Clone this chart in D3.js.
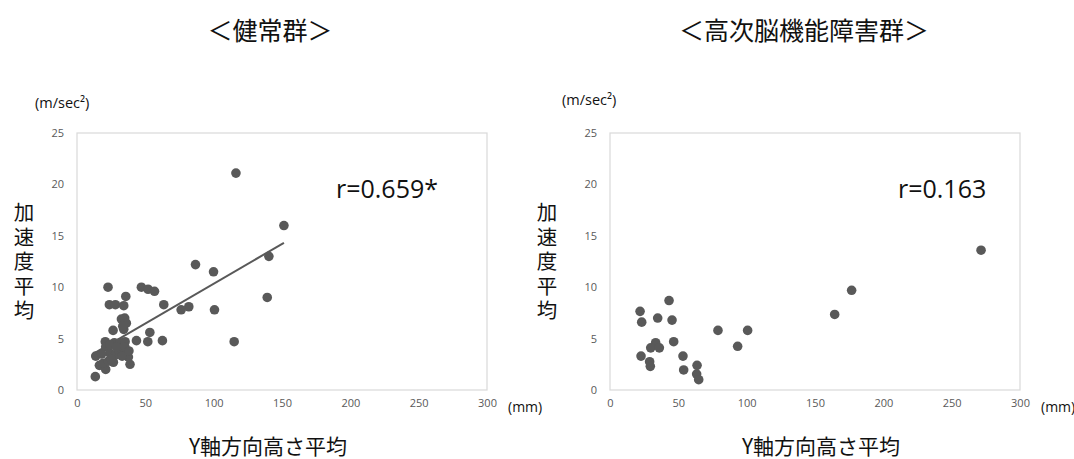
<!DOCTYPE html>
<html>
<head>
<meta charset="utf-8">
<script src="https://cdn.jsdelivr.net/npm/d3@7"></script>
<style>
  body { margin: 0; background: #fff; }
  svg text { font-family: "Noto Sans CJK JP", "Noto Sans", sans-serif; }
</style>
</head>
<body>
<div id="chart"></div>
<script>
// healthy group (健常群)
var healthyX = [116.3, 151.4, 140.4, 139.2, 115, 86.7, 99.9, 100.6, 81.8, 76.2,
    63.5, 62.5, 53.3, 51.8, 43.5, 47.1, 52, 56.7, 22.7, 23.7,
    28.1, 34.2, 35.7, 32.5, 34.9, 36.1, 34.2, 26.4, 20.7, 27.3,
    31.5, 35.2, 21, 13.7, 16.4, 21, 26.6, 38.8, 13.4, 36.4,
    37.6, 33.5, 24, 28, 31, 18, 24, 29, 33, 35,
    19, 23, 38, 25];
var healthyY = [21.1, 16.0, 13.0, 9.0, 4.7, 12.2, 11.5, 7.8, 8.1, 7.8,
    8.3, 4.8, 5.6, 4.7, 4.8, 10.0, 9.8, 9.6, 10.0, 8.3,
    8.3, 8.2, 9.1, 6.9, 7.0, 6.5, 5.9, 5.8, 4.7, 4.6,
    4.6, 4.7, 4.2, 3.3, 2.4, 2.0, 2.7, 2.5, 1.3, 3.6,
    3.2, 6.2, 3.6, 3.4, 3.8, 3.5, 4.4, 4.2, 3.3, 4.2,
    2.6, 2.8, 3.8, 3.0];

// higher brain dysfunction group (高次脳機能障害群)
var patientX = [22, 23.2, 43.2, 34.9, 45.4, 46.6, 33.4, 29.8, 36.1, 22.7,
    29, 29.5, 53.4, 53.9, 63.7, 63.4, 64.9, 79, 100.7, 93.4,
    164.4, 176.8, 271.5];
var patientY = [7.65, 6.6, 8.7, 7.0, 6.8, 4.7, 4.6, 4.1, 4.1, 3.3,
    2.75, 2.3, 3.3, 1.95, 2.4, 1.55, 1.0, 5.8, 5.8, 4.25,
    7.35, 9.7, 13.6];

var xTicks = [0, 50, 100, 150, 200, 250, 300];
var yTicks = [0, 5, 10, 15, 20, 25];

var w = 1074, h = 459;
var grey = "#595959";

var svg = d3.select("#chart").append("svg")
    .attr("width", w)
    .attr("height", h);

function panel(opt) {
    var x = d3.scaleLinear().domain([0, 300]).range([opt.left, opt.left + 410]);
    var y = d3.scaleLinear().domain([0, 25]).range([390, 133]);

    var g = svg.append("g");

    g.append("rect")
        .attr("x", x(0)).attr("y", y(25))
        .attr("width", x(300) - x(0)).attr("height", y(0) - y(25))
        .attr("fill", "none")
        .attr("stroke", "#d9d9d9")
        .attr("stroke-width", 1.2);

    var xa = g.append("g")
        .attr("transform", "translate(0," + (y(0) + 6) + ")")
        .call(d3.axisBottom(x).tickValues(xTicks).tickSize(0));
    var ya = g.append("g")
        .attr("transform", "translate(" + (x(0) - 10) + ",0)")
        .call(d3.axisLeft(y).tickValues(yTicks).tickSize(0));
    [xa, ya].forEach(function(a) {
        a.select(".domain").remove();
        a.selectAll("text")
            .attr("fill", grey)
            .style("font-family", "'Open Sans', sans-serif")
            .style("font-size", "11px");
    });

    if (opt.trend) {
        var n = opt.xs.length;
        var mx = d3.mean(opt.xs), my = d3.mean(opt.ys);
        var sxy = 0, sxx = 0;
        for (var i = 0; i < n; i++) {
            sxy += (opt.xs[i] - mx) * (opt.ys[i] - my);
            sxx += (opt.xs[i] - mx) * (opt.xs[i] - mx);
        }
        var b = sxy / sxx, a0 = my - b * mx;
        var ext = d3.extent(opt.xs);
        g.append("line")
            .attr("x1", x(ext[0])).attr("y1", y(a0 + b * ext[0]))
            .attr("x2", x(ext[1])).attr("y2", y(a0 + b * ext[1]))
            .attr("stroke", grey)
            .attr("stroke-width", 2);
    }

    g.selectAll("circle")
        .data(d3.range(opt.xs.length))
        .enter()
        .append("circle")
        .attr("cx", function(i) { return x(opt.xs[i]); })
        .attr("cy", function(i) { return y(opt.ys[i]); })
        .attr("r", 4.8)
        .attr("fill", grey);

    g.append("text")
        .attr("x", opt.titleX).attr("y", 40)
        .attr("text-anchor", "middle")
        .style("font-size", "25px")
        .attr("fill", "#111")
        .text(opt.title);

    g.append("text")
        .attr("x", opt.unitYX).attr("y", opt.unitYY)
        .style("font-family", "'Open Sans', sans-serif")
        .style("font-size", "14.5px")
        .attr("fill", "#111")
        .text("(m/sec²)");

    g.append("text")
        .attr("x", x(300) + 21).attr("y", y(0) + 22)
        .style("font-family", "'Open Sans', sans-serif")
        .style("font-size", "14px")
        .attr("fill", "#111")
        .text("(mm)");

    g.append("text")
        .attr("x", opt.xLabelX).attr("y", 454)
        .attr("text-anchor", "middle")
        .style("font-size", "21px")
        .attr("fill", "#111")
        .text("Y軸方向高さ平均");

    // vertical y-axis title, one text element
    g.append("text")
        .attr("x", opt.yLabelX).attr("y", 202)
        .style("writing-mode", "vertical-rl")
        .style("text-orientation", "upright")
        .style("letter-spacing", "4px")
        .style("font-size", "20.5px")
        .attr("fill", "#111")
        .text("加速度平均");

    g.append("text")
        .attr("x", opt.rX).attr("y", 198)
        .style("font-family", "'Open Sans', sans-serif")
        .style("font-size", "25px")
        .attr("fill", "#111")
        .text(opt.r);
}

panel({
    left: 77, xs: healthyX, ys: healthyY, trend: true,
    title: "＜健常群＞", titleX: 270,
    unitYX: 35, unitYY: 108,
    xLabelX: 268, yLabelX: 24,
    rX: 336, r: "r=0.659*"
});

panel({
    left: 610, xs: patientX, ys: patientY, trend: false,
    title: "＜高次脳機能障害群＞", titleX: 804,
    unitYX: 562, unitYY: 105,
    xLabelX: 821, yLabelX: 547,
    rX: 898, r: "r=0.163"
});
</script>
</body>
</html>
